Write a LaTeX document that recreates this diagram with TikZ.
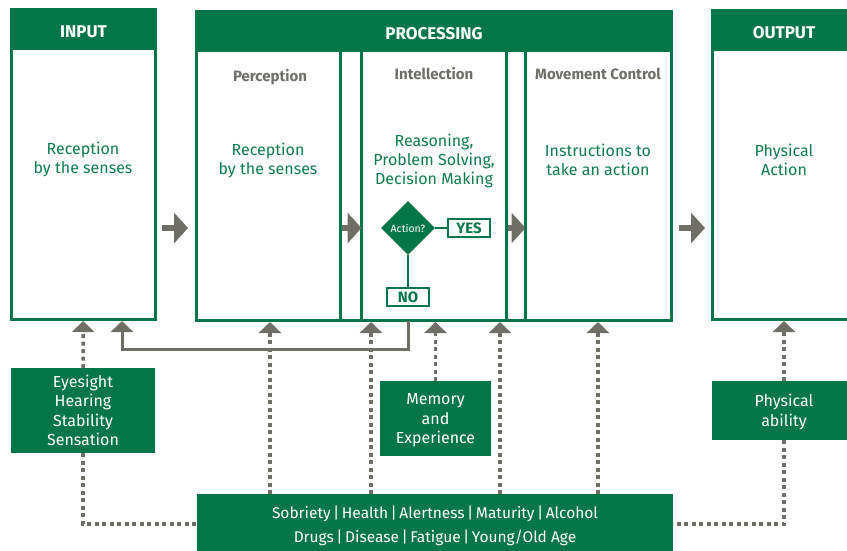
\documentclass[tikz,border=0pt]{standalone}
\usepackage{fontspec}
\setmainfont{Fira Sans}
\usepackage{xcolor}
\usetikzlibrary{positioning,arrows.meta,shapes.geometric}
\definecolor{dgreen}{HTML}{05754A}
\definecolor{tgreen}{HTML}{0E7C4F}
\definecolor{dgray}{HTML}{6F6F68}
\newcommand{\fsep}{\hspace{2.5pt}|\hspace{2.5pt}}

\begin{document}
\begin{tikzpicture}[
    x=1pt, y=-1pt,
    stage/.style={rectangle, draw=dgreen, line width=3pt, outer sep=0pt, inner sep=0pt},
    header/.style={rectangle, draw=dgreen, fill=dgreen, line width=3pt, outer sep=0pt, minimum height=39pt, text height=16pt, text depth=0pt, text=white, font=\fontsize{17}{20}\selectfont\bfseries},
    title/.style={text=dgray, font=\fontsize{15}{18}\selectfont\bfseries},
    body/.style={align=center, text=tgreen, font=\fontsize{16}{19}\selectfont},
    factor/.style={rectangle, fill=dgreen, align=center, text=white, outer sep=0pt, font=\fontsize{16}{19.5}\selectfont},
    answer/.style={rectangle, draw=dgreen, line width=2pt, text=dgreen, minimum width=42pt, minimum height=18pt, inner sep=0pt, font=\fontsize{15}{15}\selectfont\bfseries},
    flow/.style={dgray, line width=6pt, -{Triangle[length=14pt, width=30pt]}},
    dotline/.style={dgray, line width=3.5pt, dash pattern=on 4pt off 3.5pt},
    dotarrow/.style={dotline, -{Triangle[length=11pt, width=22pt]}, shorten >=1.5pt},
    feedback/.style={dgray, line width=3pt, -{Triangle[length=11pt, width=22pt]}, shorten >=1.5pt}
]
    \useasboundingbox (0,0) rectangle (847,550);
    \fill[white] (0,0) rectangle (847,550);
    \clip (0,0) rectangle (847,550);

    % Stages
    \node[stage, minimum width=144pt, minimum height=310pt] (input) at (83.5,164.5) {};
    \node[header, minimum width=144pt, anchor=north] (inhead) at (input.north) {INPUT};

    \node[stage, minimum width=475pt, minimum height=309pt] (proc) at (434,166) {};
    \node[header, minimum width=475pt, anchor=north] (prochead) at (proc.north) {PROCESSING};
    \node[stage, anchor=south west, minimum width=144pt, minimum height=270.5pt] (percbox) at (196.5,320.5) {};
    \node[stage, anchor=south west, minimum width=144.5pt, minimum height=270.5pt] (intelbox) at (361.5,320.5) {};
    \node[stage, anchor=south west, minimum width=146pt, minimum height=270.5pt] (movebox) at (525.5,320.5) {};

    \node[stage, minimum width=143pt, minimum height=309pt] (output) at (784,165) {};
    \node[header, minimum width=143pt, anchor=north] (outhead) at (output.north) {OUTPUT};

    % Texts
    \node[title] (percep) at (270,77) {Perception};
    \node[title] (intel) at (434,74) {Intellection};
    \node[title] (move) at (598,74) {Movement Control};

    \node[body] (intext) at (83,159) {Reception\\by the senses};
    \node[body] (perctext) at (268,160) {Reception\\by the senses};
    \node[body] (reason) at (434,161) {Reasoning,\\Problem Solving,\\Decision Making};
    \node[body] (movetext) at (598,160) {Instructions to\\take an action};
    \node[body] (outtext) at (784,160) {Physical\\Action};

    % Decision
    \node[diamond, fill=dgreen, minimum width=54pt, minimum height=54pt, inner sep=0pt, text=white, font=\fontsize{10.5}{12}\selectfont] (action) at (408,228) {Action?};
    \node[answer] (yes) at (469,228) {YES};
    \node[answer] (no) at (408,297) {NO};
    \draw[dgreen, line width=2pt] (action) -- (yes);
    \draw[dgreen, line width=2pt] (action) -- (no);

    % Factors
    \node[factor, minimum width=144pt, minimum height=85pt] (senses) at (83,410.5) {Eyesight\\Hearing\\Stability\\Sensation};
    \node[factor, minimum width=111pt, minimum height=75pt, text depth=-3pt] (memory) at (435.5,418.5) {Memory\\and\\Experience};
    \node[factor, minimum width=144pt, minimum height=59pt, text depth=-3pt] (ability) at (784,410.5) {Physical\\ability};
    \node[factor, minimum width=476pt, minimum height=60pt, text depth=-5pt, font=\fontsize{15.5}{24}\selectfont] (factors) at (435,524) {Sobriety\fsep Health\fsep Alertness\fsep Maturity\fsep Alcohol\\Drugs\fsep Disease\fsep Fatigue\fsep Young/Old Age};

    \coordinate (ina) at (270,320.5);
    \coordinate (inb) at (371,320.5);
    \coordinate (inc) at (500,320.5);
    \coordinate (ind) at (598,320.5);
    \coordinate (fb) at (no |- proc.south);
    \coordinate (back) at (122,319.5);

    % Arrows
    \draw[flow, shorten <=6.5pt, shorten >=8.5pt] (input.east |- action) -- (proc.west |- action);
    \draw[flow, shorten <=1.5pt] (percbox.east |- action) -- (intelbox.west |- action);
    \draw[flow, shorten <=1.5pt] (intelbox.east |- action) -- (movebox.west |- action);
    \draw[flow, shorten <=7.5pt, shorten >=7.5pt] (proc.east |- action) -- (output.west |- action);

    \draw[feedback] (fb) -- ++(0,29) -| (back);

    \draw[dotarrow] (senses) -- (input);
    \draw[dotarrow] (memory) -- (memory |- proc.south);
    \draw[dotarrow] (ability) -- (output);
    \draw[dotarrow] (factors.north -| ina) -- (ina);
    \draw[dotarrow] (factors.north -| inb) -- (inb);
    \draw[dotarrow] (factors.north -| inc) -- (inc);
    \draw[dotarrow] (factors.north -| ind) -- (ind);
    \draw[dotline] (senses.south) |- (factors.west);
    \draw[dotline] (ability.south) |- (factors.east);
\end{tikzpicture}
\end{document}
